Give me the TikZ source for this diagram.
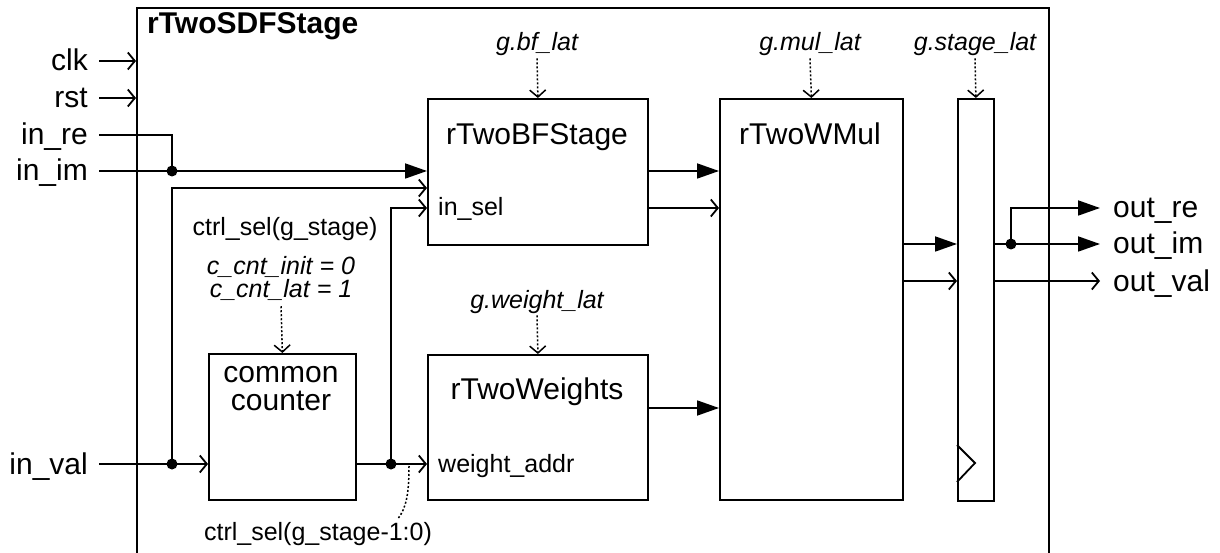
\documentclass[tikz,border=0pt]{standalone}
\usepackage{fontspec}
\setmainfont{Liberation Sans}
\usetikzlibrary{arrows.meta,calc}
\begin{document}
\begin{tikzpicture}[x=1pt,y=-1pt,
  wire/.style={line width=1.8pt},
  bus/.style={wire,-{Triangle[length=22pt,width=15pt]}},
  sig/.style={wire,-{Straight Barb[length=7pt,width=17pt]}},
  param/.style={line width=1.5pt,dash pattern=on 2pt off 2pt,-{Straight Barb[length=7pt,width=16pt]}},
  tapline/.style={line width=1.5pt,dash pattern=on 2pt off 2pt},
  blk/.style={draw,line width=1.8pt,inner sep=0pt,anchor=north west},
  bigtxt/.style={font=\fontsize{30}{34}\selectfont,inner sep=0pt},
  smalltxt/.style={font=\fontsize{25}{29}\selectfont,inner sep=0pt},
  partxt/.style={font=\fontsize{25}{29}\selectfont\itshape,inner sep=0pt},
  dot/.style={circle,fill,inner sep=0pt,minimum size=11pt}]
\useasboundingbox (0,0) rectangle (1220,553);

% enclosing entity
\node[blk,minimum width=912pt,minimum height=580pt] (sdf) at (136,7) {};
\node[bigtxt,font=\fontsize{30}{34}\selectfont\bfseries,anchor=base west] (sdft) at (147,34) {rTwoSDFStage};

% sub-blocks
\node[blk,minimum width=220pt,minimum height=146pt] (bf)  at (427,98)  {};
\node[blk,minimum width=220pt,minimum height=145pt] (wt)  at (427,354) {};
\node[blk,minimum width=183pt,minimum height=401pt] (mul) at (719,98)  {};
\node[blk,minimum width=36pt, minimum height=402pt] (lat) at (957,98)  {};
\node[blk,minimum width=147pt,minimum height=146pt] (cnt) at (208,353) {};

% block titles
\node[bigtxt,anchor=base] (bft)  at (537,145) {rTwoBFStage};
\node[bigtxt,anchor=base] (mult) at (810,145) {rTwoWMul};
\node[bigtxt,anchor=base] (wtt)  at (537,399) {rTwoWeights};
\node[bigtxt,anchor=base] (cnt1) at (281,382) {common};
\node[bigtxt,anchor=base] (cnt2) at (281,410) {counter};
\node[smalltxt,anchor=base west] (insel) at (438,216) {in\_sel};
\node[smalltxt,anchor=base west] (waddr) at (438,472) {weight\_addr};

% generics
\node[partxt,anchor=base] (bfp)  at (537,51)  {g.bf\_lat};
\node[partxt,anchor=base] (mulp) at (810,51)  {g.mul\_lat};
\node[partxt,anchor=base] (latp) at (975,51)  {g.stage\_lat};
\node[partxt,anchor=base] (wtp)  at (537,308) {g.weight\_lat};
\node[partxt,anchor=base] (cntp1) at (281,274) {c\_cnt\_init = 0};
\node[partxt,anchor=base] (cntp2) at (281,298) {c\_cnt\_lat = 1};
\node[smalltxt,anchor=base] (csel1) at (285,236) {ctrl\_sel(g\_stage)};
\node[smalltxt,anchor=base] (csel2) at (318,540) {ctrl\_sel(g\_stage-1:0)};

\draw[param] ($(bfp.south)+(0,2)$)  -- (bf.north);
\draw[param] ($(mulp.south)+(0,2)$) -- (mul.north);
\draw[param] ($(latp.south)+(0,2)$) -- (lat.north);
\draw[param] ($(wtp.south)+(0,2)$)  -- (wt.north);
\draw[param] ($(cntp2.south)+(0,5)$) -- (cnt.north);

% ports
\node[bigtxt,anchor=base east] (clk)   at (88,71)  {clk};
\node[bigtxt,anchor=base east] (rst)   at (88,108) {rst};
\node[bigtxt,anchor=base east] (inre)  at (88,145) {in\_re};
\node[bigtxt,anchor=base east] (inim)  at (88,181) {in\_im};
\node[bigtxt,anchor=base east] (inval) at (88,474) {in\_val};
\node[bigtxt,anchor=base west] (outre)  at (1113,218) {out\_re};
\node[bigtxt,anchor=base west] (outim)  at (1113,254) {out\_im};
\node[bigtxt,anchor=base west] (outval) at (1113,291) {out\_val};

\coordinate (clkp)   at (99,61);
\coordinate (rstp)   at (99,98);
\coordinate (inrep)  at (99,135);
\coordinate (inimp)  at (99,171);
\coordinate (invalp) at (99,464);
\coordinate (outrep)  at (1100,208);
\coordinate (outimp)  at (1100,244);
\coordinate (outvalp) at (1100,281);

% junctions
\node[dot] (j1) at (172,171) {};
\node[dot] (j2) at (172,464) {};
\node[dot] (j3) at (391,464) {};
\node[dot] (j4) at (1011,244) {};

% connections
\draw[sig] (clkp) -- (sdf.west |- clkp);
\draw[sig] (rstp) -- (sdf.west |- rstp);
\draw[wire] (inrep) -| (j1.center);
\draw[bus] (inimp) -- (bf.west |- inimp);
\draw[sig] (j2.center) |- ($(bf.north west)+(0,90)$);
\draw[sig] (invalp) -- (cnt.west |- invalp);
\draw[sig] (cnt.east |- invalp) -- (wt.west |- invalp);
\draw[sig] (j3.center) |- ($(bf.north west)+(0,110)$);
\draw[bus] ($(bf.north east)+(0,73)$) -- ($(mul.north west)+(0,73)$);
\draw[sig] ($(bf.north east)+(0,110)$) -- ($(mul.north west)+(0,110)$);
\draw[bus] ($(wt.north east)+(0,54)$) -- ($(mul.north west)+(0,310)$);
\draw[bus] ($(mul.north east)+(0,146)$) -- ($(lat.north west)+(0,146)$);
\draw[sig] ($(mul.north east)+(0,183)$) -- ($(lat.north west)+(0,183)$);
\draw[bus] ($(lat.north east)+(0,146)$) -- (outimp);
\draw[bus] (j4.center) |- (outrep);
\draw[sig] ($(lat.north east)+(0,183)$) -- (outvalp);

% clock input of the output register
\draw[wire,line join=miter] ($(lat.north west)+(0,347)$) -- ++(18,18) -- ++(-18,19);

% tap on the counter output
\coordinate (tap) at (409,466);
\draw[tapline] (tap) .. controls (409,495) and (406,508) .. ($(csel2.north)+(80,-3)$);
\end{tikzpicture}
\end{document}
